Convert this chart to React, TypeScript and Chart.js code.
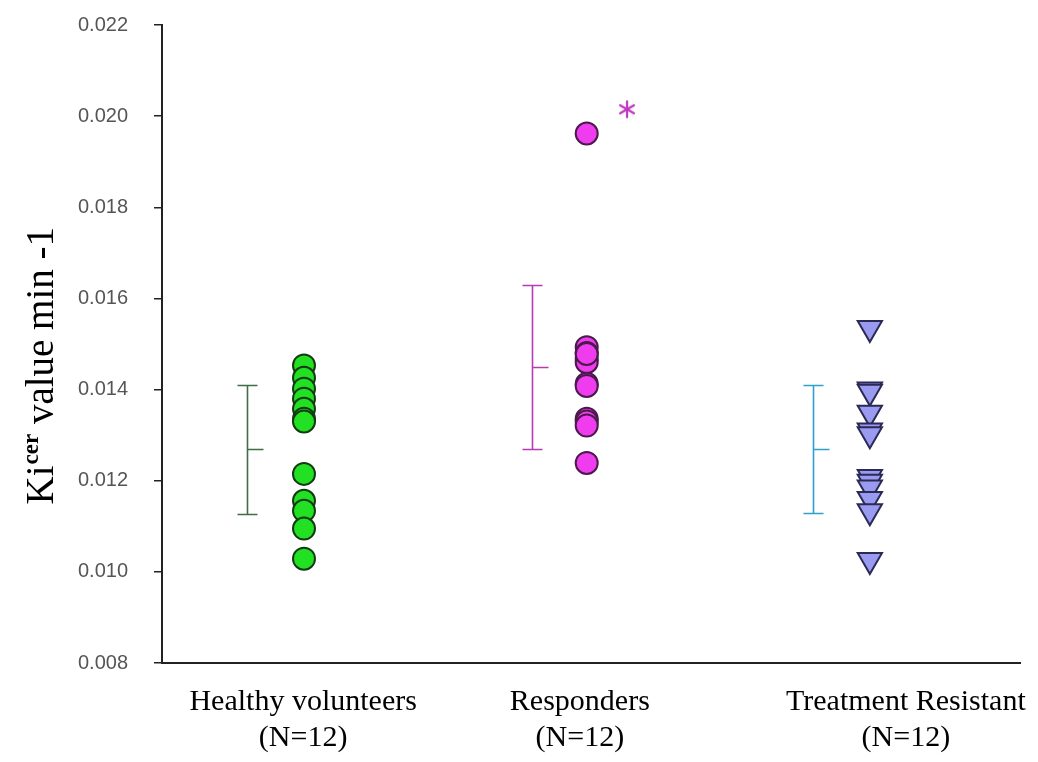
import React, { useEffect, useRef } from "react";
import { Chart, registerables } from "chart.js";

Chart.register(...registerables);

// ---- data ----
const groupLabels: string[][] = [
  ["Healthy volunteers", "(N=12)"],
  ["Responders", "(N=12)"],
  ["Treatment Resistant", "(N=12)"],
];
const labelX = [1.645, 4.87, 8.67];
const pointX = [1.655, 4.95, 8.25];
const barX = [0.99, 4.31, 7.59];

const healthy = [0.01453, 0.01426, 0.01402, 0.0138, 0.01358, 0.01336, 0.0133, 0.01215, 0.01156, 0.01134, 0.01095, 0.01029];
const responders = [0.01962, 0.01493, 0.0148, 0.01468, 0.0146, 0.01413, 0.01408, 0.01336, 0.0133, 0.01321, 0.01239, 0.01478];
const resistant = [0.01535, 0.014, 0.01395, 0.01349, 0.0131, 0.01302, 0.01208, 0.01198, 0.01185, 0.0116, 0.01133, 0.01026];

const barTop = [0.01409, 0.0163, 0.01409];
const barMean = [0.0127, 0.0145, 0.0127];
const barBottom = [0.01127, 0.0127, 0.01129];

const starX = [5.42];
const starY = [0.02015];

const yTicks = [0.008, 0.01, 0.012, 0.014, 0.016, 0.018, 0.02, 0.022];

// ---- styles ----
const barColors = ["#3f6e45", "#b53cb5", "#2f9fcc"];

function makeAsterisk(): HTMLCanvasElement {
  const c = document.createElement("canvas");
  c.width = 20;
  c.height = 20;
  const g = c.getContext("2d")!;
  g.strokeStyle = "#c038c0";
  g.lineWidth = 2.2;
  g.lineCap = "round";
  const r = 8;
  for (const a of [90, 30, 150]) {
    const rad = (a * Math.PI) / 180;
    g.beginPath();
    g.moveTo(10 - r * Math.cos(rad), 10 - r * Math.sin(rad));
    g.lineTo(10 + r * Math.cos(rad), 10 + r * Math.sin(rad));
    g.stroke();
  }
  return c;
}

const errorBarPlugin = {
  id: "errorBars",
  afterDatasetsDraw(chart: any) {
    const { ctx, scales } = chart;
    const x = scales.x;
    const y = scales.y;
    ctx.save();
    barX.forEach((bx, i) => {
      const px = Math.round(x.getPixelForValue(bx)) + 0.5;
      const t = Math.round(y.getPixelForValue(barTop[i])) + 0.5;
      const m = Math.round(y.getPixelForValue(barMean[i])) + 0.5;
      const b = Math.round(y.getPixelForValue(barBottom[i])) + 0.5;
      ctx.strokeStyle = barColors[i];
      ctx.lineWidth = 1.6;
      ctx.beginPath();
      ctx.moveTo(px, t);
      ctx.lineTo(px, b);
      ctx.moveTo(px - 10, t);
      ctx.lineTo(px + 10, t);
      ctx.moveTo(px - 10, b);
      ctx.lineTo(px + 10, b);
      ctx.moveTo(px, m);
      ctx.lineTo(px + 16, m);
      ctx.stroke();
    });
    ctx.restore();
  },
};

const yTitlePlugin = {
  id: "yTitle",
  afterDraw(chart: any) {
    const ctx = chart.ctx as CanvasRenderingContext2D;
    ctx.save();
    const big = '39px "Liberation Serif", "Times New Roman", serif';
    const small = 'bold 23px "Liberation Serif", "Times New Roman", serif';
    ctx.font = big;
    const wKi = ctx.measureText("Ki").width;
    const wRest = ctx.measureText(" value min -1").width;
    ctx.font = small;
    const wCer = ctx.measureText("cer").width;
    const total = wKi + 1 + wCer + wRest;
    const endY = 227;
    ctx.translate(53, endY + total);
    ctx.rotate(-Math.PI / 2);
    ctx.fillStyle = "#000";
    ctx.textAlign = "left";
    ctx.textBaseline = "alphabetic";
    ctx.font = big;
    ctx.fillText("Ki", 0, 0);
    ctx.font = small;
    ctx.fillText("cer", wKi + 1, -15);
    ctx.font = big;
    ctx.fillText(" value min -1", wKi + 1 + wCer, 0);
    ctx.restore();
  },
};

export default function App() {
  const ref = useRef<HTMLCanvasElement | null>(null);

  useEffect(() => {
    if (!ref.current) return;
    const asterisk = makeAsterisk();
    const chart = new Chart(ref.current, {
      type: "scatter",
      data: {
        datasets: [
          {
            label: "Healthy volunteers",
            data: healthy.map((v) => ({ x: pointX[0], y: v })),
            pointStyle: "circle",
            pointRadius: 11,
            backgroundColor: "#22e022",
            borderColor: "#143a14",
            borderWidth: 2,
          },
          {
            label: "Responders",
            data: responders.map((v) => ({ x: pointX[1], y: v })),
            pointStyle: "circle",
            pointRadius: 11,
            backgroundColor: "#ee3cee",
            borderColor: "#4a1a4a",
            borderWidth: 2,
          },
          {
            label: "Treatment Resistant",
            data: resistant.map((v) => ({ x: pointX[2], y: v })),
            pointStyle: "triangle",
            rotation: 180,
            pointRadius: 14,
            backgroundColor: "#9a9af0",
            borderColor: "#2a2a55",
            borderWidth: 2,
          },
          {
            label: "significance",
            data: starX.map((x, i) => ({ x, y: starY[i] })),
            pointStyle: asterisk as any,
            pointRadius: 10,
          },
        ],
      },
      options: {
        animation: false,
        responsive: true,
        maintainAspectRatio: false,
        events: [],
        layout: { padding: { top: 25, right: 18, bottom: 0, left: 0 } },
        plugins: {
          legend: { display: false },
          tooltip: { enabled: false },
          title: { display: false },
        },
        scales: {
          x: {
            type: "linear",
            min: 0,
            max: 10,
            afterFit: (s: any) => {
              s.height = 99;
              s.paddingLeft = 0;
              s.paddingRight = 0;
            },
            afterBuildTicks: (s: any) => {
              s.ticks = labelX.map((v) => ({ value: v }));
            },
            grid: { display: false, drawTicks: false },
            border: { display: true, color: "#222", width: 2 },
            ticks: {
              autoSkip: false,
              maxRotation: 0,
              padding: 21,
              color: "#000",
              font: { family: '"Liberation Serif", "Times New Roman", serif', size: 30, lineHeight: 1.2 },
              callback: (_v: any, i: number) => groupLabels[i],
            },
          },
          y: {
            type: "linear",
            min: 0.008,
            max: 0.022,
            afterFit: (s: any) => {
              s.width = 162;
              s.paddingTop = 0;
              s.paddingBottom = 0;
            },
            afterBuildTicks: (s: any) => {
              s.ticks = yTicks.map((v) => ({ value: v }));
            },
            grid: {
              display: true,
              drawOnChartArea: false,
              drawTicks: true,
              tickLength: 8,
              color: "#222",
              lineWidth: 1.5,
            },
            border: { display: true, color: "#222", width: 2 },
            ticks: {
              padding: 26,
              color: "#555",
              font: { family: '"Liberation Sans", Arial, sans-serif', size: 20 },
              callback: (v: any) => Number(v).toFixed(3),
            },
          },
        },
      },
      plugins: [errorBarPlugin, yTitlePlugin],
    });
    return () => chart.destroy();
  }, []);

  return (
    <div style={{ position: "fixed", left: 0, top: 0, width: 1038, height: 762, background: "#fff" }}>
      <canvas ref={ref} />
    </div>
  );
}
